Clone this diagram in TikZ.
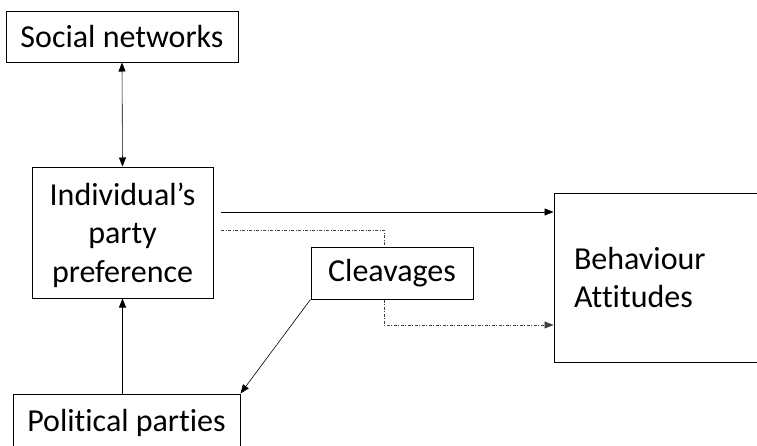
\documentclass[tikz,border=0pt]{standalone}
\usepackage{fontspec}
\setmainfont{Carlito}[Ligatures={NoCommon}]
\usetikzlibrary{calc, positioning, arrows.meta}

\tikzset{
	box/.style={draw, line width=1pt, align=center, inner sep=0pt, font=\fontsize{32}{38.5}\selectfont},
	link/.style={line width=0.6pt, -{Triangle[length=9pt, width=7pt]}},
	dashlink/.style={link, black!75, dash pattern=on 3pt off 1.5pt on 1pt off 1.5pt}
}

\begin{document}
\begin{tikzpicture}[x=1pt, y=-1pt]
	\useasboundingbox (0,0) rectangle (757,445);

	\node [box, minimum width=232pt, minimum height=51pt] (social) at (122,36.5) {Social networks};
	\node [box, minimum width=181pt, minimum height=131pt, text depth=0pt] (indiv) at (122.5,232.5) {Individual's\\ party\\ preference};
	\node [box, minimum width=162pt, minimum height=52pt] (cleav) at (392,273) {Cleavages};
	\node [box, minimum width=227pt, minimum height=58pt] (polit) at (126.5,423) {Political parties};
	\node [box, minimum width=215pt, minimum height=169pt, align=left, text width=175pt] (behav) at (661.5,277.5) {Behaviour\\ Attitudes};

	\coordinate (s1) at (221,212);
	\coordinate (d1) at (221,230);
	\coordinate (d2) at (384,230);
	\coordinate (d3) at (384,325);

	\draw [link, {Triangle[length=9pt, width=7pt]}-{Triangle[length=9pt, width=7pt]}] (social.south) -- (indiv.north);
	\draw [link] (indiv.south |- polit.north) -- (indiv.south);
	\draw [link] (cleav.south west) -- (polit.north east);
	\draw [link] (s1) -- (s1 -| behav.west);

	\draw [dashlink, -] (d1) -- (d2) -- (d2 |- cleav.north);
	\draw [dashlink] (d3 |- cleav.south) -- (d3) -- (d3 -| behav.west);
\end{tikzpicture}
\end{document}
